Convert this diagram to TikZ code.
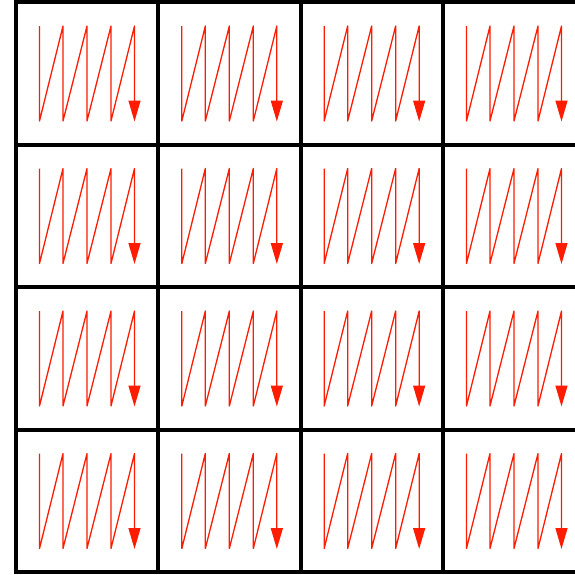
\documentclass[tikz,border=0pt]{standalone}
\usetikzlibrary{arrows.meta}
\definecolor{zzred}{RGB}{255,28,0}

\begin{document}
\begin{tikzpicture}[
  x=1pt,y=-1pt,
  gridline/.style={line width=4pt,black},
  zigzag/.style={draw=zzred,line width=1.3pt,line join=round,
                 -{Triangle[length=21pt,width=12pt]}},
]
  % page frame
  \useasboundingbox (0,0) rectangle (575,574);
  \clip (0,0) rectangle (575,574);

  % scan paths in each cell
  \foreach \i in {0,...,3}
    \foreach \j in {0,...,3} {
      \begin{scope}[shift={(16+142.33*\i,2+142.5*\j)}]
        \draw[zigzag] (23.5,24) -- (23.5,119) -- (47,24) -- (47,119)
          -- (71,24) -- (71,119) -- (95,24) -- (95,119)
          -- (118.5,24) -- (118.5,119.5);
      \end{scope}
    }

  % grid
  \foreach \i in {0,...,4}
    \draw[gridline] (16+142.33*\i,0) -- (16+142.33*\i,574);
  \foreach \j in {0,...,4}
    \draw[gridline] (16,2+142.5*\j) -- (600,2+142.5*\j);
\end{tikzpicture}
\end{document}
